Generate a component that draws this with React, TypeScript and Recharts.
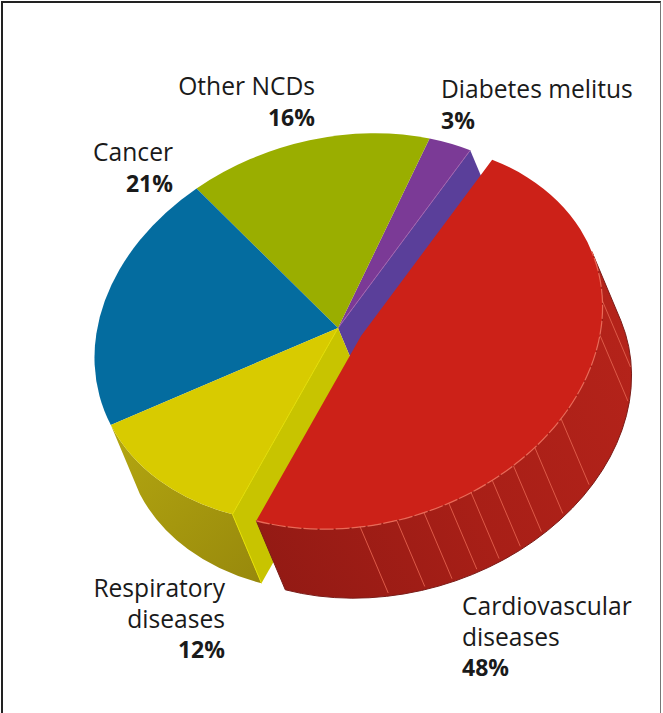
import React from 'react';
import { PieChart, Pie } from 'recharts';

const categories = ['Diabetes melitus', 'Other NCDs', 'Cancer', 'Respiratory diseases', 'Cardiovascular diseases'];
const shares = [3, 16, 21, 12, 48];
const topColors = ['#7b3a96', '#9aae00', '#046c9f', '#d8cb00', '#cc2118'];

// Styling / geometry (separate from the data)
const W = 663, H = 713;
const CX = 338, CY = 328, RX = 248, RATIO = 189 / 248, TILT = 17;
const DEPTH = { x: 29, y: 69 };
const RED_SHIFT = { x: 23, y: 8 };
const RED_SCALE = 0.992;
const RIB_ANGLES = [256.7, 265.4, 272, 278.2, 284, 289.8, 296, 302.9, 312.8, 338.4, 348.6];
const WALL_LIMIT = 364;
const FONT = '"Open Sans", sans-serif';
const FS = 24.6;
const PCT_FS = 23;

type Lbl = { x: number; anchor: string; lines: string[]; pct: string; y: number };
const labelLayout: Lbl[] = [
  { x: 441, anchor: 'start', lines: ['Diabetes melitus'], pct: '3%', y: 98 },
  { x: 315, anchor: 'end', lines: ['Other NCDs'], pct: '16%', y: 95 },
  { x: 173, anchor: 'end', lines: ['Cancer'], pct: '21%', y: 161 },
  { x: 225, anchor: 'end', lines: ['Respiratory', 'diseases'], pct: '12%', y: 597 },
  { x: 462, anchor: 'start', lines: ['Cardiovascular', 'diseases'], pct: '48%', y: 615 },
];

const data = categories.map((name, i) => ({ name, value: shares[i], fill: topColors[i] }));

const rad = (d: number) => (d * Math.PI) / 180;
function pt(cx: number, cy: number, r: number, a: number) {
  const lx = r * Math.cos(rad(a));
  const ly = -r * RATIO * Math.sin(rad(a));
  const c = Math.cos(rad(TILT));
  const s = Math.sin(rad(TILT));
  return { x: cx + lx * c + ly * s, y: cy - lx * s + ly * c };
}
const arcTo = (r: number, p: { x: number; y: number }, span: number, sweep: number) =>
  `A ${r} ${r * RATIO} ${-TILT} ${Math.abs(span) > 180 ? 1 : 0} ${sweep} ${p.x} ${p.y}`;
const add = (p: { x: number; y: number }) => ({ x: p.x + DEPTH.x, y: p.y + DEPTH.y });

function Slice(props: any) {
  const { cx, cy, outerRadius, startAngle: a0, endAngle: a1, name, fill } = props;
  const isRed = name === categories[4];
  const isYellow = name === categories[3];
  const isPurple = name === categories[0];
  const r = isRed ? outerRadius * RED_SCALE : outerRadius;
  const ox = isRed ? cx + RED_SHIFT.x : cx;
  const oy = isRed ? cy + RED_SHIFT.y : cy;
  const c = { x: ox, y: oy };
  const A = pt(ox, oy, r, a0);
  const B = pt(ox, oy, r, a1);
  const top = `M ${ox} ${oy} L ${A.x} ${A.y} ${arcTo(r, B, a1 - a0, 0)} Z`;
  const wallEnd = Math.min(a1, WALL_LIMIT);
  const E = pt(ox, oy, r, wallEnd);
  const wall = `M ${A.x} ${A.y} ${arcTo(r, E, wallEnd - a0, 0)} L ${add(E).x} ${add(E).y} ${arcTo(r, add(A), wallEnd - a0, 1)} Z`;
  const poly = (p: any, q: any) =>
    `M ${p.x} ${p.y} L ${q.x} ${q.y} L ${add(q).x} ${add(q).y} L ${add(p).x} ${add(p).y} Z`;
  return (
    <g>
      <defs>
        <linearGradient id="redWall" gradientUnits="userSpaceOnUse" x1="260" y1="560" x2="640" y2="360">
          <stop offset="0" stopColor="#931a14" />
          <stop offset="0.5" stopColor="#a81f17" />
          <stop offset="1" stopColor="#b4231a" />
        </linearGradient>
        <linearGradient id="oliveWall" gradientUnits="userSpaceOnUse" x1="115" y1="430" x2="265" y2="585">
          <stop offset="0" stopColor="#b3a610" />
          <stop offset="1" stopColor="#97880c" />
        </linearGradient>
      </defs>
      {isPurple && <path d={poly(c, A)} fill="#5a3f9a" />}
      {isYellow && <path d={wall} fill="url(#oliveWall)" />}
      {isYellow && <path d={poly(c, B)} fill="#c8c400" />}
      {isRed && <path d={wall} fill="url(#redWall)" stroke="#7a1c18" strokeWidth={1} />}
      {isRed &&
        RIB_ANGLES.map((a) => {
          const p = pt(ox, oy, r, a);
          const q = add(p);
          return <line key={a} x1={p.x} y1={p.y} x2={q.x - 1} y2={q.y - 3} stroke="#dd5a48" strokeWidth={1} />;
        })}
      <path d={top} fill={fill} />
      {isRed && (
        <path
          d={`M ${A.x} ${A.y} ${arcTo(r, E, wallEnd - a0, 0)}`}
          fill="none"
          stroke="#ea6a58"
          strokeWidth={1.2}
          strokeDasharray="14 2"
        />
      )}
      {isYellow && <line x1={B.x} y1={B.y} x2={add(B).x} y2={add(B).y} stroke="#e6e000" strokeWidth={1} />}
      {isYellow && <line x1={ox} y1={oy} x2={B.x} y2={B.y} stroke="#e2dc00" strokeWidth={1} />}
      {isPurple && <line x1={ox} y1={oy} x2={A.x} y2={A.y} stroke="#a264ae" strokeWidth={1} />}
    </g>
  );
}

function SliceLabel(props: any) {
  const l = labelLayout[props.index];
  return (
    <text textAnchor={l.anchor as any} fontFamily={FONT} fontSize={FS} fill="#1a1a1a">
      {l.lines.map((t, i) => (
        <tspan key={t} x={l.x} y={l.y + i * 30.5}>
          {t}
        </tspan>
      ))}
      <tspan x={l.x} y={l.y + l.lines.length * 30.5} fontWeight={700} fontSize={PCT_FS}>
        {l.pct}
      </tspan>
    </text>
  );
}

export default function App() {
  return (
    <div
      style={{
        position: 'absolute',
        left: 0,
        top: 0,
        width: W,
        height: H,
        background: '#fff',
        overflow: 'hidden',
      }}
    >
      <PieChart width={W} height={H} margin={{ top: 0, right: 0, bottom: 0, left: 0 }}>
        <Pie
          data={data}
          dataKey="value"
          nameKey="name"
          cx={CX}
          cy={CY}
          innerRadius={0}
          outerRadius={RX}
          startAngle={44}
          endAngle={404}
          paddingAngle={0}
          stroke="none"
          isAnimationActive={false}
          shape={Slice}
          label={SliceLabel}
          labelLine={false}
        />
      </PieChart>
      <div
        style={{
          position: 'absolute',
          left: 1,
          top: 1,
          width: 660,
          height: 712,
          borderTop: '2px solid #222',
          borderLeft: '2px solid #222',
          borderRight: '1px solid #777',
          boxSizing: 'border-box',
          pointerEvents: 'none',
        }}
      />
    </div>
  );
}
